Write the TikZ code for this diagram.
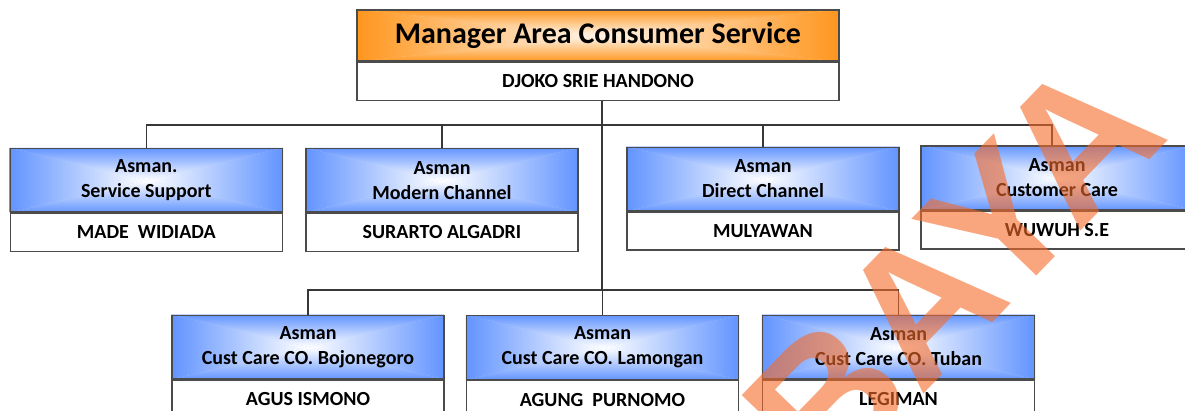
\documentclass[tikz,border=0pt]{standalone}
\usepackage{fontspec}
\setmainfont{Carlito}
\newfontfamily\wmfont{Liberation Sans}
\usetikzlibrary{backgrounds,calc}
\definecolor{bblue}{RGB}{98,148,255}
\definecolor{bmid}{RGB}{190,210,255}
\definecolor{oedge}{RGB}{255,150,30}
\definecolor{omid}{RGB}{255,200,140}
\definecolor{ocenter}{RGB}{255,246,236}
\definecolor{wmcol}{RGB}{245,107,40}
\definecolor{bordercol}{RGB}{75,75,75}
\definecolor{linecol}{RGB}{55,55,55}
% rectangular "from centre" gradient behind a node
\newcommand\gradfill[4]{%
  \fill[#4] (#1.north west) rectangle (#1.south east);
  \shade[left color=#2, right color=#3] (#1.north west) -- (#1.south west) -- (#1.center) -- cycle;
  \shade[left color=#3, right color=#2] (#1.north east) -- (#1.south east) -- (#1.center) -- cycle;
  \shade[top color=#2, bottom color=#3] (#1.north west) -- (#1.north east) -- (#1.center) -- cycle;
  \shade[top color=#3, bottom color=#2] (#1.south west) -- (#1.south east) -- (#1.center) -- cycle;
}
\tikzset{
  boxline/.style={draw=bordercol, line width=1.4pt},
  headbox/.style={boxline, minimum width=482pt, minimum height=51pt, inner sep=0pt,
    font=\bfseries\fontsize{30}{30}\selectfont},
  topname/.style={boxline, fill=white, minimum width=482pt, minimum height=38pt, inner sep=0pt,
    anchor=north, font=\bfseries\fontsize{20}{20}\selectfont},
  ttlbox/.style={boxline, minimum width=272pt, minimum height=63.5pt, inner sep=0pt,
    align=center, font=\bfseries\fontsize{20}{25}\selectfont},
  nambox/.style={boxline, fill=white, minimum width=272pt, minimum height=38pt, inner sep=0pt,
    anchor=north, font=\bfseries\fontsize{20}{20}\selectfont},
  conn/.style={draw=linecol, line width=1.3pt},
  wmark/.style={rotate=46, anchor=base west, inner sep=0pt, text=wmcol, text opacity=0.6,
    font=\wmfont\bfseries\fontsize{188}{188}\selectfont}
}
\begin{document}
\begin{tikzpicture}[x=1pt,y=-1pt]
\useasboundingbox (0,0) rectangle (1185,411);
\clip (0,0) rectangle (1185,411);

% top manager
\node[headbox] (mt) at (598,35.5) {Manager Area Consumer Service};
\node[topname] (mn) at (mt.south) {DJOKO SRIE HANDONO};

% level 2
\node[ttlbox] (t1) at (146.3,180.25) {Asman.\\Service Support};
\node[nambox] (n1) at (t1.south) {MADE\ \ WIDIADA};
\node[ttlbox] (t2) at (442,180.25) {Asman\\Modern Channel};
\node[nambox] (n2) at (t2.south) {SURARTO ALGADRI};
\node[ttlbox] (t3) at (763,179) {Asman\\Direct Channel};
\node[nambox] (n3) at (t3.south) {MULYAWAN};
\node[ttlbox] (t4) at (1057,177.75) {Asman\\Customer Care};
\node[nambox] (n4) at (t4.south) {WUWUH S.E};

% level 3
\node[ttlbox] (t5) at (308,347) {Asman\\Cust Care CO. Bojonegoro};
\node[nambox] (n5) at (t5.south) {AGUS ISMONO};
\node[ttlbox] (t6) at (602.5,347.5) {Asman\\Cust Care CO. Lamongan};
\node[nambox] (n6) at (t6.south) {AGUNG\ \ PURNOMO};
\node[ttlbox] (t7) at (898.5,347) {Asman\\Cust Care CO. Tuban};
\node[nambox] (n7) at (t7.south) {LEGIMAN};

\coordinate (j2) at (602,125);
\coordinate (j3) at (602,290);

\begin{scope}[on background layer]
  \fill[white] (0,0) rectangle (1185,411);
  \gradfill{mt}{oedge}{ocenter}{omid}
  \foreach \b in {t1,t2,t3,t4,t5,t6,t7} {\gradfill{\b}{bblue}{white}{bmid}}
  % connectors
  \draw[conn] ($(mn.south)+(4,0)$) -- (j3);
  \draw[conn] (t1.north) |- (j2) -| ($(t4.north)+(-5,0)$);
  \draw[conn] (t2.north) -- (t2.north |- j2);
  \draw[conn] (t3.north) -- (t3.north |- j2);
  \draw[conn] (t5.north) |- (j3) -| (t7.north);
  \draw[conn] (t6.north) -- (t6.north |- j3);
\end{scope}

% watermark
\node[wmark] (wm) at (826,495) {BAYA};
\end{tikzpicture}
\end{document}
